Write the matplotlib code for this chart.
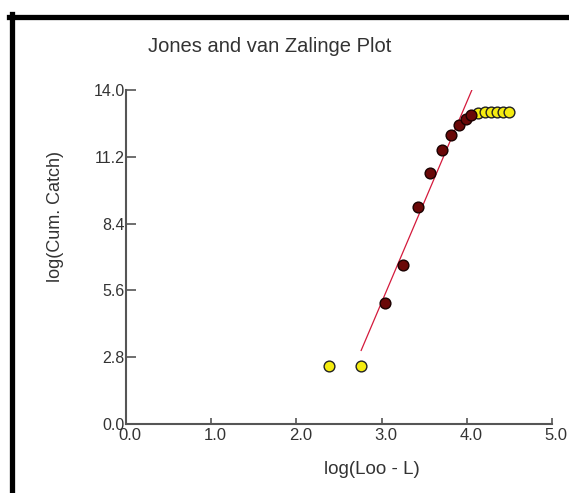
import numpy as np
import matplotlib
matplotlib.use("Agg")
import matplotlib.pyplot as plt
import matplotlib.transforms as mtransforms
from matplotlib.lines import Line2D

plt.rcParams['font.family'] = ['Liberation Sans', 'DejaVu Sans']

# points not used in the fit (yellow)
x_low = [2.38, 2.76]
y_low = [2.43, 2.43]
x_high = [4.13, 4.21, 4.28, 4.35, 4.42, 4.50]
y_high = [13.03, 13.06, 13.07, 13.07, 13.07, 13.06]

# points used in the fit (dark red)
x_fit = [3.04, 3.25, 3.43, 3.57, 3.71, 3.81, 3.91, 3.99, 4.05]
y_fit = [5.07, 6.66, 9.09, 10.52, 11.48, 12.11, 12.53, 12.78, 12.95]

# regression line
a = -20.1
b = 8.4
line_x = [2.76, 4.08]

x_ticks = [0.0, 1.0, 2.0, 3.0, 4.0, 5.0]
y_ticks = [0.0, 2.8, 5.6, 8.4, 11.2, 14.0]

fig = plt.figure(figsize=(5.69, 4.93), dpi=100)
ax = fig.add_axes([126/569, 1 - 424/493, 426/569, 334/493])

lx = np.array(line_x)
ax.plot(lx, a + b*lx, color='#d41a3c', lw=0.9, zorder=2)
ax.scatter(x_low, y_low, s=60, c='#f5ec10', edgecolors='#222222', linewidths=1.0, zorder=3)
ax.scatter(x_high, y_high, s=60, c='#f5ec10', edgecolors='#222222', linewidths=1.0, zorder=3)
ax.scatter(x_fit, y_fit, s=60, c='#6a0808', edgecolors='#1a0000', linewidths=1.0, zorder=4)

ax.set_xlim(0, 5)
ax.set_ylim(0, 14)
ax.set_xticks(x_ticks)
ax.set_yticks(y_ticks)
ax.set_xticklabels(['%.1f' % v for v in x_ticks])
ax.set_yticklabels(['%.1f' % v for v in y_ticks])
for s in ['top', 'right']:
    ax.spines[s].set_visible(False)
for s in ['left', 'bottom']:
    ax.spines[s].set_color('#555555')
    ax.spines[s].set_linewidth(1.5)
ax.tick_params(axis='x', direction='in', length=4, width=1.2, color='#555555',
               labelsize=12, labelcolor='#333333', pad=3)
ax.tick_params(axis='y', direction='in', length=7, width=1.2, color='#555555',
               labelsize=11.5, labelcolor='#333333', pad=1)
# x labels sit a little right of their ticks in the original
shift = mtransforms.ScaledTranslation(4/100, 0, fig.dpi_scale_trans)
for lab in ax.get_xticklabels():
    lab.set_transform(lab.get_transform() + shift)

fig.text(372/569, 1 - 470/493, 'log(Loo - L)', ha='center', va='center', fontsize=13.5, color='#333333')
fig.text(55/569, 1 - 216/493, 'log(Cum. Catch)', ha='center', va='center', rotation=90,
         fontsize=13, color='#333333')
fig.text(270/569, 1 - 47/493, 'Jones and van Zalinge Plot', ha='center', va='center',
         fontsize=14.5, color='#333333')

# black frame from the screenshot
fig.add_artist(Line2D([9/569, 1], [1 - 16.5/493, 1 - 16.5/493], color='black', lw=3.8,
                      transform=fig.transFigure))
fig.add_artist(Line2D([11.5/569, 11.5/569], [0, 1 - 14/493], color='black', lw=3.8,
                      transform=fig.transFigure))

fig.savefig('out.png', dpi=100)
